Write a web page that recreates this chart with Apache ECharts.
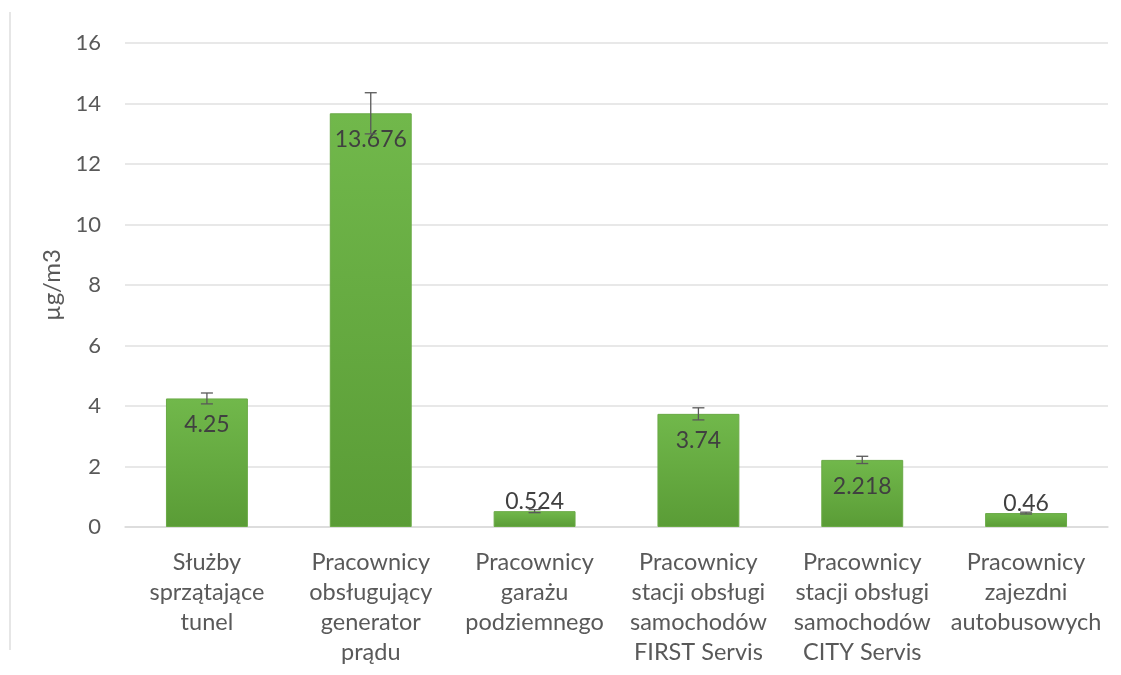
<!DOCTYPE html>
<html><head><meta charset="utf-8">
<script src="https://cdn.jsdelivr.net/npm/echarts@6/dist/echarts.min.js"></script>
<style>html,body{margin:0;padding:0;background:#fff}#c{width:1121px;height:675px}</style>
</head><body><div id="c"></div>
<script>
const categories = [
  "Służby\nsprzątające\ntunel",
  "Pracownicy\nobsługujący\ngenerator\nprądu",
  "Pracownicy\ngarażu\npodziemnego",
  "Pracownicy\nstacji obsługi\nsamochodów\nFIRST Servis",
  "Pracownicy\nstacji obsługi\nsamochodów\nCITY Servis",
  "Pracownicy\nzajezdni\nautobusowych"
];
const values = [4.25, 13.676, 0.524, 3.74, 2.218, 0.46];
const errors = [0.18, 0.68, 0.05, 0.2, 0.12, 0.03];
const yTicks = [0, 2, 4, 6, 8, 10, 12, 14, 16];
const yName = "µg/m3";

const font = "Lato, 'Open Sans', sans-serif";
const chart = echarts.init(document.getElementById('c'));
const barData = values.map((v, i) => ({
  value: v,
  label: v < 1 ? { position: 'top', distance: -2 } : { position: 'insideTop', distance: 15 }
}));
chart.setOption({
  animation: false,
  grid: { left: 125, right: 13, top: 43, bottom: 148 },
  graphic: [{ type: 'line', shape: { x1: 10, y1: 12, x2: 10, y2: 650 }, style: { stroke: '#e6e6e6', lineWidth: 2 } }],
  xAxis: {
    type: 'category', data: categories,
    axisTick: { show: false },
    axisLine: { lineStyle: { color: '#d9d9d9', width: 1.5 } },
    axisLabel: { color: '#595959', fontSize: 23.5, fontFamily: font, lineHeight: 30, margin: 20, interval: 0 }
  },
  yAxis: {
    type: 'value', min: yTicks[0], max: yTicks[yTicks.length - 1], interval: 2,
    name: yName, nameLocation: 'middle', nameGap: 59, nameRotate: 90,
    nameTextStyle: { color: '#595959', fontSize: 24, fontFamily: font },
    axisLine: { show: false }, axisTick: { show: false },
    axisLabel: { color: '#595959', fontSize: 22, fontFamily: font, margin: 24 },
    splitLine: { lineStyle: { color: '#e0e0e0', width: 1.5 } }
  },
  series: [{
    type: 'bar', data: barData, barWidth: '50%',
    itemStyle: {
      color: new echarts.graphic.LinearGradient(0, 0, 0, 1, [
        { offset: 0, color: '#71b84b' }, { offset: 1, color: '#5a9c36' }
      ]),
      borderColor: '#6aaa46', borderWidth: 1
    },
    label: { show: true, color: '#404040', fontSize: 23, fontFamily: font,
      formatter: p => String(values[p.dataIndex]) }
  }, {
    type: 'custom', z: 5,
    data: values.map((v, i) => [i, v, errors[i]]),
    renderItem: function (params, api) {
      const x = api.value(0), v = api.value(1), e = api.value(2);
      const hi = api.coord([x, v + e]);
      const lo = api.coord([x, v - e]);
      const w = 6;
      const st = { stroke: '#595959', lineWidth: 1.3 };
      return { type: 'group', children: [
        { type: 'line', shape: { x1: hi[0], y1: hi[1], x2: lo[0], y2: lo[1] }, style: st },
        { type: 'line', shape: { x1: hi[0] - w, y1: hi[1], x2: hi[0] + w, y2: hi[1] }, style: st },
        { type: 'line', shape: { x1: lo[0] - w, y1: lo[1], x2: lo[0] + w, y2: lo[1] }, style: st }
      ]};
    }
  }]
});
</script></body></html>
